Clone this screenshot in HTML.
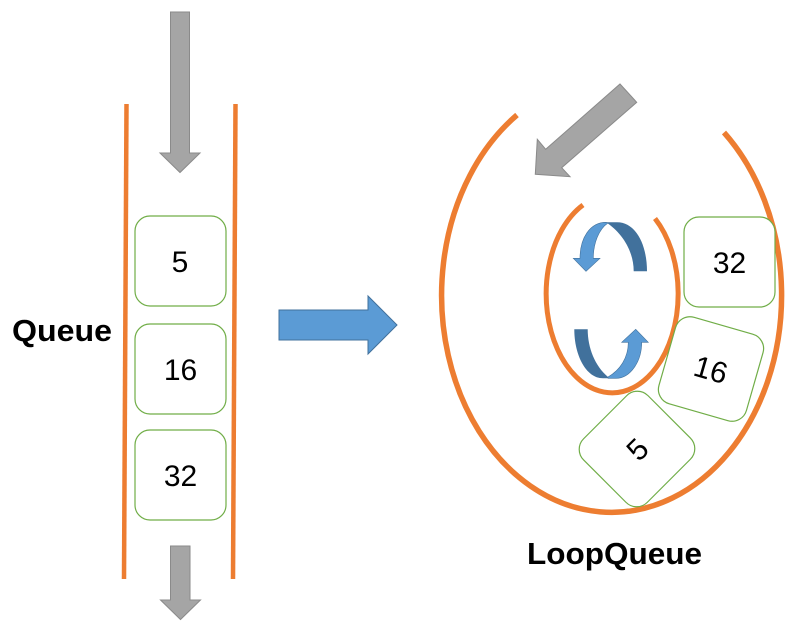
<!DOCTYPE html>
<html>
<head>
<meta charset="utf-8">
<style>
html,body{margin:0;padding:0;background:#fff;width:803px;height:629px;overflow:hidden}
svg{display:block}
text{font-family:"Liberation Sans","DejaVu Sans",sans-serif;fill:#000}
.b{fill:#fff;stroke:#70AD47;stroke-width:1.2}
.o{fill:none;stroke:#ED7D31;stroke-width:4.500}
.g{fill:#A5A5A5;stroke:#8a8a8a;stroke-width:1}
</style>
</head>
<body>
<svg width="803" height="629" viewBox="0 0 803 629" xmlns="http://www.w3.org/2000/svg">
<!-- queue walls -->
<line class="o" x1="126.500" y1="104" x2="124" y2="579"/>
<line class="o" x1="235.500" y1="104" x2="233" y2="579"/>
<!-- gray arrows -->
<polygon class="g" points="170.500,12 189.500,12 189.500,153 200,153 180,172.500 160,153 170.500,153"/>
<polygon class="g" points="170.500,546 190,546 190,600 200.500,600 180.500,619.500 160.500,600 170.500,600"/>
<polygon class="g" points="620,84 636.700,102.300 561.700,167.700 570,176.700 535.300,174.300 537.300,139.300 545.700,149.300"/>
<!-- left boxes -->
<rect class="b" x="135" y="216" width="91" height="90" rx="15"/>
<rect class="b" x="135" y="324" width="91" height="90" rx="15"/>
<rect class="b" x="135" y="430" width="91" height="90" rx="15"/>
<text x="180" y="272" font-size="30" text-anchor="middle">5</text>
<text x="180.500" y="380" font-size="30" text-anchor="middle">16</text>
<text x="180.500" y="486" font-size="30" text-anchor="middle">32</text>
<!-- blue arrow -->
<polygon fill="#5B9BD5" stroke="#41719C" stroke-width="1" points="279,310 368,310 368,296 397,325 368,354 368,340 279,340"/>
<!-- loop outer -->
<path class="o" style="stroke-width:5.500" d="M517 115 A170 217 0 1 0 724 132.500"/>
<!-- loop inner -->
<path class="o" style="stroke-width:5" d="M583 205 A66 99 0 1 0 655 218.500"/>
<!-- curved arrows -->
<path fill="#41719C" d="M633.700 271.300 L647 271.300 C647 245 636 222.300 617 222.300 L606 222.300 C621 232 633.700 250 633.700 271.300 Z"/>
<path fill="#5B9BD5" stroke="#41719C" stroke-width=".6" d="M608 223 C599 229 593.300 243 593.300 258.300 L600 258.300 L586 271.300 L573.300 258.300 L580 258.300 C580 238 590 222.300 606 222.300 Z"/>
<path fill="#41719C" d="M574.300 329.300 L587.700 329.300 C587.700 348 595 366 608 377 L610 378.300 L603 378.300 C586 378.300 574.300 355 574.300 329.300 Z"/>
<path fill="#5B9BD5" stroke="#41719C" stroke-width=".6" d="M608 377 C620 370 628.300 358 628.300 342.300 L621.700 342.300 L635.700 329.300 L648.300 342.300 L641.700 342.300 C641.700 362 630 378.300 616 378.300 L608 378.300 Z"/>
<!-- right boxes -->
<rect class="b" x="684" y="217" width="91" height="90" rx="15"/>
<text x="729.500" y="273" font-size="30" text-anchor="middle">32</text>
<g transform="translate(711 369) rotate(16)">
<rect class="b" x="-45.500" y="-45" width="91" height="90" rx="15"/>
<text x="0" y="11" font-size="30" text-anchor="middle">16</text>
</g>
<g transform="translate(637 449) rotate(-45)">
<rect class="b" x="-45.500" y="-45" width="91" height="90" rx="15"/>
<text x="0" y="11" font-size="30" text-anchor="middle">5</text>
</g>
<!-- labels -->
<text x="12" y="341" font-size="31" font-weight="700" textLength="100" lengthAdjust="spacingAndGlyphs">Queue</text>
<text x="527" y="564" font-size="31" font-weight="700" textLength="175" lengthAdjust="spacingAndGlyphs">LoopQueue</text>
</svg>
</body>
</html>
